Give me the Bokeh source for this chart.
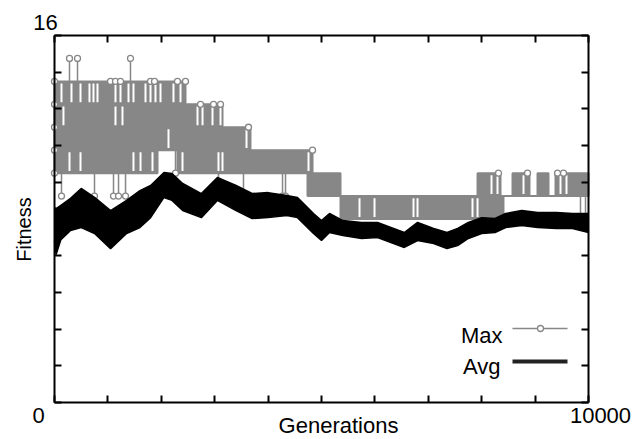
import math

from bokeh.embed import file_html
from bokeh.models import CustomJSTickFormatter, FixedTicker, Label, LinearAxis, Range1d
from bokeh.plotting import figure
from bokeh.resources import INLINE

# ---------------------------------------------------------------------------
# Data
# ---------------------------------------------------------------------------
x_ticks = [0, 1000, 2000, 3000, 4000, 5000, 6000, 7000, 8000, 9000, 10000]
y_ticks = [0, 1.6, 3.2, 4.8, 6.4, 8, 9.6, 11.2, 12.8, 14.4, 16]

# Max fitness: the best individual flips between integer levels every
# generation, so each stretch is stored as the band of levels it covers.
max_start = [0, 1929, 2303, 2453, 3146, 3670, 4738, 4832, 5356, 7922,
             8352, 8408, 8577, 8895, 9045, 9251, 9382]
max_end = [1929, 2303, 2453, 3146, 3670, 4738, 4832, 5356, 7922, 8352,
           8408, 8577, 8895, 9045, 9251, 9382, 10000]
max_lo = [10, 11, 10, 10, 10, 10, 9, 9, 8, 8, 8, 9, 9, 9, 9, 9, 9]
max_hi = [14, 14, 14, 13, 12, 11, 11, 10, 9, 10, 9, 9, 10, 9, 10, 9, 10]

# Isolated excursions of the max outside its band (base level -> peak level)
spike_gen = [281, 431, 1423,
             131, 749, 1105, 1199, 1330, 2266, 3071, 3539, 4270, 4326,
             9850, 9944]
spike_base = [14, 14, 14,
              10, 10, 10, 10, 10, 11, 10, 10, 10, 10,
              9, 9]
spike_tip = [15, 15, 15,
             9, 9, 9, 9, 9, 10, 9, 9, 9, 9,
             8, 8]

# Single sampled points sitting on the edge of the band
edge_gen = [0, 0, 0, 0, 0,
            1049, 1142, 1236, 1798, 1873, 2303, 2453,
            2734, 2978, 3109, 3633, 4832,
            8315, 8858, 9420, 9532]
edge_val = [10, 11, 12, 13, 14,
            14, 14, 14, 14, 14, 14, 14,
            13, 13, 13, 12, 11,
            10, 10, 10, 10]

# Generations where the max trace never crossed between two adjacent levels
gap_gen = [131, 318, 487, 655, 730, 805, 1142, 1236, 1386, 1479, 1704, 1798,
           1891, 1985, 2228, 2360,
           168, 1142, 1273, 2678, 2772, 2959, 3109,
           2135, 3596,
           281, 487, 1479, 1611, 1835, 2397, 3071, 3146, 4757,
           5712, 5993, 6723, 6798, 7828, 7922,
           8184, 8296, 8783, 9476, 9588]
gap_lo = [13] * 16 + [12] * 7 + [11] * 2 + [10] * 9 + [8] * 6 + [9] * 5
gap_hi = [14] * 16 + [13] * 7 + [12] * 2 + [11] * 9 + [9] * 6 + [10] * 5

# Average fitness: upper and lower edges of the noisy trace
avg_gen = [0, 30, 120, 300, 500, 750, 1050, 1350, 1600, 1800, 2050, 2200,
           2400, 2750, 3050, 3400, 3700, 4000, 4350, 4550, 4850, 5000, 5150,
           5400, 5750, 6050, 6350, 6550, 6800, 7100, 7350, 7550, 7750, 8000,
           8250, 8450, 8750, 9050, 9400, 9700, 10000]
avg_hi = [8.5, 8.45, 8.6, 8.9, 9.33, 8.94, 8.37, 8.81, 9.24, 9.46, 10.03, 9.98,
          9.55, 9.11, 9.81, 9.46, 9.11, 9.15, 9.02, 8.94, 8.24, 7.93, 8.24,
          7.93, 7.85, 7.85, 7.59, 7.41, 7.85, 7.59, 7.41, 7.59, 7.85, 8.06,
          8.02, 8.24, 8.37, 8.28, 8.28, 8.24, 8.24]
avg_lo = [7.05, 6.45, 7.1, 7.5, 7.63, 7.37, 6.71, 7.37, 7.63, 8.06, 8.94, 8.81,
          8.37, 8.06, 8.81, 8.37, 8.02, 8.06, 8.15, 8.06, 7.37, 7.06, 7.41,
          7.28, 7.15, 7.19, 6.93, 6.76, 7.06, 6.93, 6.71, 6.84, 7.15, 7.37,
          7.41, 7.63, 7.72, 7.63, 7.59, 7.59, 7.41]

# ---------------------------------------------------------------------------
# Layout: the frame fills the canvas; the boxed axes sit at fixed locations
# ---------------------------------------------------------------------------
W, H = 633, 439
FL, FR, FT, FB = 54, 588, 35, 402          # box edges in canvas pixels
X0, X1, Y0, Y1 = 0, 10000, 0, 16

GRAY = "#878787"
FONT = "Liberation Sans"


def gx(px):
    """Canvas x pixel -> generation."""
    return X0 + (px - FL) / (FR - FL) * (X1 - X0)


def vy(py):
    """Canvas y pixel -> fitness."""
    return Y0 + (FB - py) / (FB - FT) * (Y1 - Y0)


p = figure(width=W, height=H, output_backend="svg", toolbar_location=None,
           x_range=Range1d(gx(0), gx(W)), y_range=Range1d(vy(H), vy(0)),
           min_border=0, background_fill_color="white",
           border_fill_color="white")
p.grid.visible = False
p.outline_line_color = None

p.add_layout(LinearAxis(), "above")
p.add_layout(LinearAxis(), "right")
p.below[0].fixed_location = Y0
p.above[0].fixed_location = Y1
p.left[0].fixed_location = X0
p.right[0].fixed_location = X1

blank = CustomJSTickFormatter(code="return ''")
for ax in p.axis:
    ax.axis_line_color = "black"
    ax.axis_line_width = 2
    ax.major_tick_line_color = "black"
    ax.major_tick_line_width = 2
    ax.major_tick_in = 7
    ax.major_tick_out = 0
    ax.minor_tick_line_color = None
    ax.formatter = blank
    ax.major_label_text_font_size = "0px"
    ax.major_label_standoff = 0
for ax in p.xaxis:
    ax.ticker = FixedTicker(ticks=x_ticks)
    ax.bounds = (X0, X1)
for ax in p.yaxis:
    ax.ticker = FixedTicker(ticks=y_ticks)
    ax.bounds = (Y0, Y1)

# ---------------------------------------------------------------------------
# Max fitness
# ---------------------------------------------------------------------------
p.quad(left=max_start, right=max_end, bottom=max_lo, top=max_hi,
       fill_color=GRAY, line_color=GRAY, line_width=2)
gap_pad = 0.09
p.segment(x0=gap_gen, x1=gap_gen,
          y0=[v + gap_pad for v in gap_lo], y1=[v - gap_pad for v in gap_hi],
          line_color="white", line_width=2)
p.segment(x0=spike_gen, x1=spike_gen, y0=spike_base, y1=spike_tip,
          line_color=GRAY, line_width=1.5)
p.scatter(x=spike_gen, y=spike_tip, marker="circle", size=6,
          fill_color="white", line_color=GRAY, line_width=1.3)
p.scatter(x=edge_gen, y=edge_val, marker="circle", size=6,
          fill_color="white", line_color=GRAY, line_width=1.3)

# ---------------------------------------------------------------------------
# Average fitness
# ---------------------------------------------------------------------------
p.varea(x=avg_gen, y1=avg_lo, y2=avg_hi, fill_color="black")
p.line(x=avg_gen, y=avg_hi, line_color="black", line_width=1.5)
p.line(x=avg_gen, y=avg_lo, line_color="black", line_width=1.5)

# ---------------------------------------------------------------------------
# Legend keys (labels sit to the left of the samples)
# ---------------------------------------------------------------------------
p.line(x=[gx(512), gx(567)], y=[vy(328), vy(328)], line_color=GRAY, line_width=1.5)
p.scatter(x=[gx(540)], y=[vy(328)], marker="circle", size=6,
          fill_color="white", line_color=GRAY, line_width=1.3)
p.line(x=[gx(512), gx(567)], y=[vy(361), vy(361)], line_color="#222222", line_width=4)

# ---------------------------------------------------------------------------
# Texts
# ---------------------------------------------------------------------------
def add_text(text, px, py, size, align="center", baseline="middle", angle=0.0):
    p.add_layout(Label(x=gx(px), y=vy(py), text=text, text_font=FONT,
                       text_font_size=f"{size}px", text_color="black",
                       text_align=align, text_baseline=baseline, angle=angle))


add_text("16", 45, 22, 22)
add_text("0", 38, 415, 22)
add_text("10000", 600, 415, 22)
add_text("Generations", 338, 425, 22)
add_text("Fitness", 23, 229, 20, angle=math.pi / 2)
add_text("Max", 502, 335, 22, align="right", baseline="alphabetic")
add_text("Avg", 500, 366, 22, align="right", baseline="alphabetic")

open("out.html", "w").write(file_html(p, INLINE))
